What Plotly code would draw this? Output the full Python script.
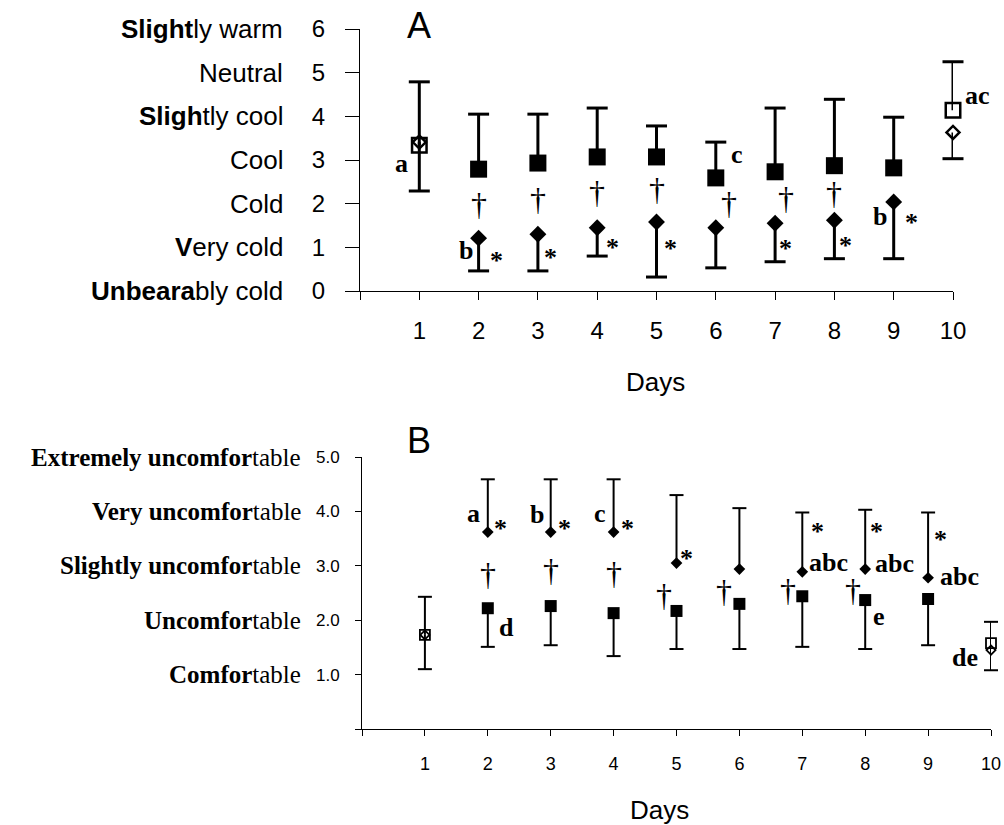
import plotly.graph_objects as go

# ---------------- data ----------------
days = [1, 2, 3, 4, 5, 6, 7, 8, 9, 10]

# Panel A (thermal sensation)
a_square = [3.34, 2.79, 2.93, 3.07, 3.07, 2.59, 2.73, 2.87, 2.82, 4.14]
a_square_upper = [4.79, 4.05, 4.05, 4.19, 3.78, 3.41, 4.19, 4.39, 3.98, 5.25]
a_diamond = [3.41, 1.21, 1.30, 1.45, 1.58, 1.45, 1.55, 1.62, 2.04, 3.63]
a_diamond_lower = [2.29, 0.46, 0.46, 0.80, 0.32, 0.53, 0.67, 0.74, 0.74, 3.03]
a_tick_vals = [0, 1, 2, 3, 4, 5, 6]
a_tick_numbers = ["0", "1", "2", "3", "4", "5", "6"]
a_tick_labels = ["<b>Unbeara</b>bly cold", "<b>V</b>ery cold", "Cold", "Cool",
                 "<b>Sligh</b>tly cool", "Neutral", "<b>Slight</b>ly warm"]
a_square_letters = {1: "a", 6: "c", 10: "ac"}
a_diamond_letters = {2: "b", 9: "b"}
a_star_days = [2, 3, 4, 5, 7, 8, 9]
a_dagger_days = [2, 3, 4, 5, 6, 7, 8]

# Panel B (thermal comfort)
b_square = [1.73, 2.22, 2.26, 2.13, 2.17, 2.30, 2.44, 2.37, 2.39, 1.58]
b_square_lower = [1.10, 1.51, 1.54, 1.34, 1.47, 1.47, 1.51, 1.47, 1.54, 1.08]
b_diamond = [1.73, 3.62, 3.62, 3.62, 3.05, 2.94, 2.89, 2.94, 2.78, 1.45]
b_diamond_upper = [2.43, 4.59, 4.59, 4.59, 4.30, 4.06, 3.98, 4.03, 3.98, 1.97]
b_tick_vals = [0, 1, 2, 3, 4, 5]
b_tick_numbers = ["", "1.0", "2.0", "3.0", "4.0", "5.0"]
b_tick_labels = ["", "<b>Comfor</b>table", "<b>Uncomfor</b>table",
                 "<b>Slightly uncomfor</b>table", "<b>Very uncomfor</b>table",
                 "<b>Extremely uncomfor</b>table"]
b_diamond_letters = {2: "a", 3: "b", 4: "c", 7: "abc", 8: "abc", 9: "abc"}
b_square_letters = {2: "d", 8: "e", 10: "de"}
b_star_days = [2, 3, 4, 5, 7, 8, 9]
b_dagger_days = [2, 3, 4, 5, 6, 7, 8]

open_days = [1, 10]

# ---------------- style ----------------
W, H = 1004, 825
SANS = "Liberation Sans, Arial, sans-serif"
SERIF = "Liberation Serif, Times New Roman, serif"
BLACK = "black"

fig = go.Figure()


def add_bars(xa, ya, centers, ends, width, cap_size):
    xs, ys = [], []
    for d, c, e in zip(days, centers, ends):
        xs += [d, d, None]
        ys += [c, e, None]
    fig.add_trace(go.Scatter(x=xs, y=ys, xaxis=xa, yaxis=ya, mode="lines",
                             line=dict(color=BLACK, width=width),
                             cliponaxis=False, hoverinfo="skip", showlegend=False))
    fig.add_trace(go.Scatter(x=days, y=ends, xaxis=xa, yaxis=ya, mode="markers",
                             marker=dict(symbol="line-ew", size=cap_size, color=BLACK,
                                         line=dict(color=BLACK, width=width)),
                             cliponaxis=False, hoverinfo="skip", showlegend=False))


def add_markers(xa, ya, values, symbol, size, open_size, open_lw):
    fx = [d for d in days if d not in open_days]
    fy = [v for d, v in zip(days, values) if d not in open_days]
    ox = [d for d in days if d in open_days]
    oy = [v for d, v in zip(days, values) if d in open_days]
    fig.add_trace(go.Scatter(x=fx, y=fy, xaxis=xa, yaxis=ya, mode="markers",
                             marker=dict(symbol=symbol, size=size, color=BLACK,
                                         line=dict(width=0)),
                             cliponaxis=False, hoverinfo="skip", showlegend=False))
    fig.add_trace(go.Scatter(x=ox, y=oy, xaxis=xa, yaxis=ya, mode="markers",
                             marker=dict(symbol=symbol + "-open", size=open_size, color=BLACK,
                                         line=dict(width=open_lw, color=BLACK)),
                             cliponaxis=False, hoverinfo="skip", showlegend=False))


# Panel A
add_bars("x", "y", a_square, a_square_upper, 3, 15)
add_bars("x", "y", a_diamond, a_diamond_lower, 3, 15)
add_markers("x", "y", a_square, "square", 17, 14.5, 2.5)
add_markers("x", "y", a_diamond, "diamond", 13, 10, 2.5)

# Panel B
add_bars("x2", "y2", b_square, b_square_lower, 2, 10)
add_bars("x2", "y2", b_diamond, b_diamond_upper, 2, 10)
add_markers("x2", "y2", b_square, "square", 12, 10, 1.8)
add_markers("x2", "y2", b_diamond, "diamond", 9, 7, 1.8)

ann = []


def note(x, y, text, xref, yref, xanchor="center", xs=0, ys=0, font=None):
    ann.append(dict(x=x, y=y, text=text, xref=xref, yref=yref, xanchor=xanchor,
                    yanchor="middle", xshift=xs, yshift=ys, showarrow=False,
                    font=font))


letter_font = dict(family=SERIF, size=26, color=BLACK)
star_font = dict(family=SERIF, size=26, color=BLACK)
dagger_font = dict(family=SERIF, size=32, color=BLACK)

# Panel A letters (offsets in px)
a_sq_letter_off = {1: ("right", -9, -18), 6: ("left", 13, 23), 10: ("left", 10, 15)}
a_dm_letter_off = {2: ("right", -4, -12), 9: ("right", -5, -15)}
for d, t in a_square_letters.items():
    xa, xs, ys = a_sq_letter_off[d]
    note(d, a_square[d - 1], "<b>%s</b>" % t, "x", "y", xa, xs, ys, letter_font)
for d, t in a_diamond_letters.items():
    xa, xs, ys = a_dm_letter_off[d]
    note(d, a_diamond[d - 1], "<b>%s</b>" % t, "x", "y", xa, xs, ys, letter_font)

a_star_off = {2: (18, -22), 3: (13, -23), 4: (15, -20), 5: (14, -26), 7: (10, -25),
              8: (11, -25), 9: (18, -21)}
for d in a_star_days:
    xs, ys = a_star_off[d]
    note(d, a_diamond[d - 1], "<b>*</b>", "x", "y", "center", xs, ys, star_font)

a_dagger_xoff = {2: 0, 3: 0, 4: 0, 5: 0, 6: 13, 7: 11, 8: 0}
for d in a_dagger_days:
    mid = (a_square[d - 1] + a_diamond[d - 1]) / 2
    note(d, mid, "\u2020", "x", "y", "center", a_dagger_xoff[d], 0, dagger_font)

# Panel B letters
b_dm_letter_off = {2: ("right", -6, 19), 3: ("right", -5, 18), 4: ("right", -6, 19),
                   7: ("left", 5, 9), 8: ("left", 8, 6), 9: ("left", 10, 1)}
b_sq_letter_off = {2: ("left", 9, -19), 8: ("left", 6, -16), 10: ("right", -11, -14)}
for d, t in b_diamond_letters.items():
    xa, xs, ys = b_dm_letter_off[d]
    note(d, b_diamond[d - 1], "<b>%s</b>" % t, "x2", "y2", xa, xs, ys, letter_font)
for d, t in b_square_letters.items():
    xa, xs, ys = b_sq_letter_off[d]
    note(d, b_square[d - 1], "<b>%s</b>" % t, "x2", "y2", xa, xs, ys, letter_font)

b_star_off = {2: (13, 4), 3: (14, 4), 4: (14, 4), 5: (10, 5), 7: (15, 40), 8: (11, 38),
              9: (12, 38)}
for d in b_star_days:
    xs, ys = b_star_off[d]
    note(d, b_diamond[d - 1], "<b>*</b>", "x2", "y2", "center", xs, ys, star_font)

b_dagger_off = {2: (0, -4), 3: (0, -1), 4: (0, 0), 5: (-13, -8), 6: (-15, -5),
                7: (-14, -6), 8: (-12, -5)}
for d in b_dagger_days:
    mid = (b_square[d - 1] + b_diamond[d - 1]) / 2
    xs, ys = b_dagger_off[d]
    note(d, mid, "\u2020", "x2", "y2", "center", xs, ys, dagger_font)

# y-axis word labels
for v, t in zip(a_tick_vals, a_tick_labels):
    note(285 / W, v, t, "paper", "y", "right", 0, 0,
         dict(family=SANS, size=26, color=BLACK))
for v, t in zip(b_tick_vals, b_tick_labels):
    if t:
        note(303 / W, v, t, "paper", "y2", "right", 0, 0,
             dict(family=SERIF, size=25, color=BLACK))

# panel letters and axis titles
note(419 / W, 1 - 26 / H, "A", "paper", "paper", "center", 0, 0,
     dict(family=SANS, size=36, color=BLACK))
note(419 / W, 1 - 440 / H, "B", "paper", "paper", "center", 0, 0,
     dict(family=SANS, size=36, color=BLACK))
note(655 / W, 1 - 382 / H, "Days", "paper", "paper", "center", 0, 0,
     dict(family=SANS, size=26, color=BLACK))
note(659 / W, 1 - 810 / H, "Days", "paper", "paper", "center", 0, 0,
     dict(family=SANS, size=26, color=BLACK))

axis_common = dict(showline=True, linecolor=BLACK, linewidth=1, showgrid=False,
                   zeroline=False, ticks="outside", tickcolor=BLACK, tickwidth=1,
                   fixedrange=True, automargin=False)

fig.update_layout(
    width=W, height=H, autosize=False,
    margin=dict(l=0, r=0, t=0, b=0, pad=0),
    paper_bgcolor="white", plot_bgcolor="white",
    showlegend=False,
    annotations=ann,
    xaxis=dict(domain=[360 / W, 953 / W], range=[0, 10], anchor="y",
               tickvals=[0] + days, ticktext=[""] + [str(d) for d in days],
               ticklen=8, tickfont=dict(family=SANS, size=24, color=BLACK),
               ticklabelstandoff=10, **axis_common),
    yaxis=dict(domain=[1 - 291 / H, 1 - 29 / H], range=[0, 6], anchor="x",
               tickvals=a_tick_vals, ticktext=a_tick_numbers,
               ticklen=14, tickfont=dict(family=SANS, size=24, color=BLACK),
               ticklabelstandoff=15, **axis_common),
    xaxis2=dict(domain=[362 / W, 991 / W], range=[0, 10], anchor="y2",
                tickvals=[0] + days, ticktext=[""] + [str(d) for d in days],
                ticklen=6, tickfont=dict(family=SANS, size=18, color=BLACK),
                ticklabelstandoff=12, **axis_common),
    yaxis2=dict(domain=[1 - 729 / H, 1 - 457 / H], range=[0, 5], anchor="x2",
                tickvals=b_tick_vals, ticktext=b_tick_numbers,
                ticklen=6, tickfont=dict(family=SANS, size=17, color=BLACK),
                ticklabelstandoff=12, **axis_common),
)

fig.write_html("out.html", config={"displayModeBar": False},
               post_script="document.body.style.margin='0px';")
